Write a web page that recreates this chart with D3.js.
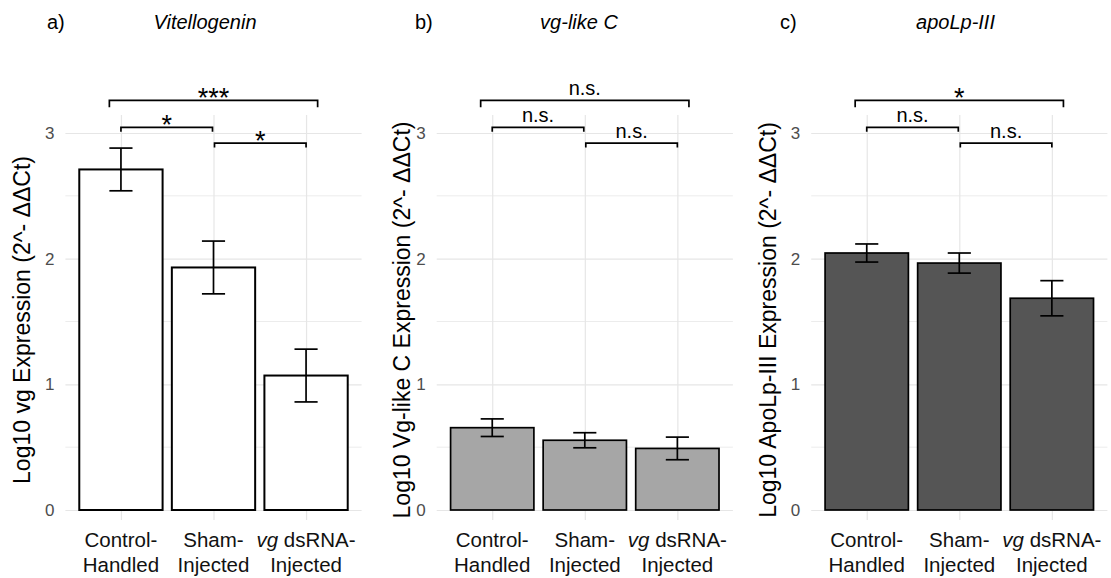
<!DOCTYPE html>
<html>
<head>
<meta charset="utf-8">
<script src="https://cdnjs.cloudflare.com/ajax/libs/d3/7.8.5/d3.min.js"></script>
<style>
body { margin: 0; background: #fff; }
svg { font-family: "Liberation Sans", Arial, sans-serif; }
</style>
</head>
<body>
<svg class="chart" width="1111" height="578"></svg>
<script>
// groups (x axis, two lines each)
const groupTop = ["Control-", "Sham-", "vg dsRNA-"];
const groupBottom = ["Handled", "Injected", "Injected"];
const yTicks = [0, 1, 2, 3];
const yMinorTicks = [0.5, 1.5, 2.5];

// log10 expression, mean and error
const vgMean = [2.71, 1.93, 1.07];
const vgErr = [0.17, 0.21, 0.21];
const vgLikeMean = [0.655, 0.555, 0.49];
const vgLikeErr = [0.07, 0.06, 0.09];
const apoMean = [2.045, 1.965, 1.685];
const apoErr = [0.072, 0.08, 0.14];

// significance brackets
const pairs = [[0, 2], [0, 1], [1, 2]];
const pairLevels = [3.26, 3.045, 2.92];
const vgSig = ["***", "*", "*"];
const vgLikeSig = ["n.s.", "n.s.", "n.s."];
const apoSig = ["*", "n.s.", "n.s."];

const panelLetters = ["a)", "b)", "c)"];
const panelTitles = ["Vitellogenin", "vg-like C", "apoLp-III"];
const yLabels = [
    "Log10 vg Expression (2^- \u0394\u0394Ct)",
    "Log10 Vg-like C Expression (2^- \u0394\u0394Ct)",
    "Log10 ApoLp-III Expression (2^- \u0394\u0394Ct)"
];

const svg = d3.select('.chart');
svg.append('rect').attr('width', 1111).attr('height', 578).attr('fill', '#fff');

const panelWidth = 296.2;
const panelTop = 115;
const panelBottom = 520;

const yScale = d3.scaleLinear()
    .domain([0, 3])
    .range([510, 133]);

const panels = [
    {left: 65.4, fill: '#ffffff', stroke: 2, letterX: 47, titleX: 205, labelX: 30, mean: vgMean, err: vgErr, sig: vgSig},
    {left: 436.7, fill: '#a6a6a6', stroke: 1.7, letterX: 415, titleX: 579, labelX: 409.5, mean: vgLikeMean, err: vgLikeErr, sig: vgLikeSig},
    {left: 811.2, fill: '#555555', stroke: 1.7, letterX: 780, titleX: 955.5, labelX: 775.5, mean: apoMean, err: apoErr, sig: apoSig}
];

panels.forEach((p, i) => renderPanel(p, i));

function renderPanel(p, i)
{
    const xScale = d3.scalePoint()
        .domain(d3.range(groupTop.length))
        .range([p.left, p.left + panelWidth])
        .padding(0.6);
    const step = xScale.step();
    const g = svg.append('g').attr('class', 'panel' + i);

    // minor grid
    g.selectAll()
        .data(yMinorTicks)
        .enter()
        .append('line')
        .attr('x1', p.left)
        .attr('x2', p.left + panelWidth)
        .attr('y1', d => yScale(d))
        .attr('y2', d => yScale(d))
        .attr('stroke', '#ececec')
        .attr('stroke-width', 1);

    // y axis with major grid
    const yAxis = g.append('g')
        .attr('class', 'y-axis')
        .attr('transform', `translate(${p.left},0)`)
        .call(d3.axisLeft(yScale)
            .tickValues(yTicks)
            .tickFormat(d3.format('d'))
            .tickSize(-panelWidth)
            .tickPadding(11)
        );
    yAxis.select('.domain').remove();
    yAxis.selectAll('line').attr('stroke', '#e6e6e6').attr('stroke-width', 1.2);
    yAxis.selectAll('text')
        .attr('fill', '#4d4d4d')
        .style('font-size', '17px');

    // vertical grid
    const xAxis = g.append('g')
        .attr('class', 'x-axis')
        .attr('transform', `translate(0,${panelBottom})`)
        .call(d3.axisBottom(xScale)
            .tickSize(-(panelBottom - panelTop))
            .tickFormat('')
        );
    xAxis.select('.domain').remove();
    xAxis.selectAll('line').attr('stroke', '#e6e6e6').attr('stroke-width', 1.2);

    // bars
    g.selectAll()
        .data(p.mean)
        .enter()
        .append('rect')
        .attr('x', (d, j) => xScale(j) - step * 0.45)
        .attr('width', step * 0.9)
        .attr('y', d => yScale(d))
        .attr('height', d => yScale(0) - yScale(d))
        .attr('fill', p.fill)
        .attr('stroke', '#000')
        .attr('stroke-width', p.stroke);

    // error bars
    const eb = g.selectAll()
        .data(p.mean)
        .enter()
        .append('g')
        .attr('stroke', '#000')
        .attr('stroke-width', 1.7);
    eb.append('line')
        .attr('x1', (d, j) => xScale(j))
        .attr('x2', (d, j) => xScale(j))
        .attr('y1', (d, j) => yScale(d + p.err[j]))
        .attr('y2', (d, j) => yScale(d - p.err[j]));
    eb.append('line')
        .attr('x1', (d, j) => xScale(j) - step * 0.125)
        .attr('x2', (d, j) => xScale(j) + step * 0.125)
        .attr('y1', (d, j) => yScale(d + p.err[j]))
        .attr('y2', (d, j) => yScale(d + p.err[j]));
    eb.append('line')
        .attr('x1', (d, j) => xScale(j) - step * 0.125)
        .attr('x2', (d, j) => xScale(j) + step * 0.125)
        .attr('y1', (d, j) => yScale(d - p.err[j]))
        .attr('y2', (d, j) => yScale(d - p.err[j]));

    // significance brackets
    pairs.forEach((pr, k) => {
        const wide = (pr[1] - pr[0]) > 1;
        const ext = wide ? step * 0.125 : 0;
        const x1 = xScale(pr[0]) - ext + (wide ? 0 : (pr[0] > 0 ? 1 : 0));
        const x2 = xScale(pr[1]) + ext - (wide ? 0 : (pr[1] < 2 ? 1 : 0));
        const y = yScale(pairLevels[k]);
        const tip = wide ? 7 : 4.5;
        g.append('path')
            .attr('d', `M${x1},${y + tip}V${y}H${x2}V${y + tip}`)
            .attr('fill', 'none')
            .attr('stroke', '#000')
            .attr('stroke-width', 1.7);
        const label = p.sig[k];
        const isStar = label.indexOf('*') != -1;
        g.append('text')
            .attr('x', (x1 + x2) / 2)
            .attr('y', isStar ? y + 6.5 : y - 5)
            .attr('text-anchor', 'middle')
            .style('font-size', isStar ? '27px' : '20px')
            .attr('fill', '#000')
            .text(label);
    });

    // x labels
    groupTop.forEach((lab, j) => {
        const t = g.append('text')
            .attr('x', xScale(j))
            .attr('y', 547)
            .attr('text-anchor', 'middle')
            .style('font-size', '20.5px')
            .attr('fill', '#111');
        if(lab.indexOf('vg ') == 0){
            t.append('tspan').style('font-style', 'italic').text('vg');
            t.append('tspan').text(lab.slice(2));
        }else{
            t.text(lab);
        }
        g.append('text')
            .attr('x', xScale(j))
            .attr('y', 572)
            .attr('text-anchor', 'middle')
            .style('font-size', '20.5px')
            .attr('fill', '#111')
            .text(groupBottom[j]);
    });

    // y label
    g.append('text')
        .attr('transform', `translate(${p.labelX},320) rotate(-90)`)
        .attr('text-anchor', 'middle')
        .style('font-size', '23px')
        .attr('fill', '#000')
        .text(yLabels[i]);

    // panel letter and title
    svg.append('text')
        .attr('x', p.letterX)
        .attr('y', 28.5)
        .style('font-size', '20px')
        .text(panelLetters[i]);
    svg.append('text')
        .attr('x', p.titleX)
        .attr('y', 28.5)
        .attr('text-anchor', 'middle')
        .style('font-size', '20px')
        .style('font-style', 'italic')
        .text(panelTitles[i]);
}
</script>
</body>
</html>
